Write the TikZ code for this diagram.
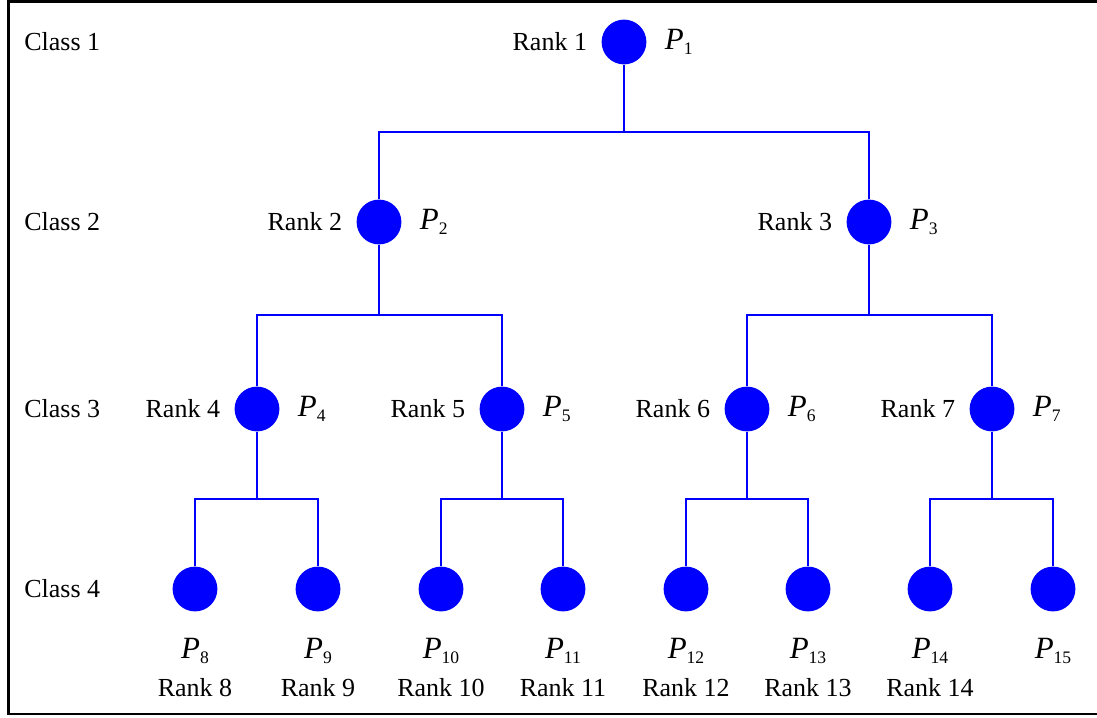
\documentclass[tikz,border=0pt]{standalone}
\usepackage{fontspec}
\setmainfont{Liberation Serif}
\usetikzlibrary{positioning}
\newcommand{\pname}[1]{\textit{P}\raisebox{-4pt}{\fontsize{12.5}{12.5}\selectfont #1}}

\begin{document}
\begin{tikzpicture}[
x=0.025cm, y=-0.025cm,
proc/.style={
  circle,
  fill=blue,
  inner sep=0pt,
  minimum size=1.12cm
  },
link/.style={draw=blue, line width=0.8pt},
txt/.style={inner sep=0pt, font=\fontsize{18.5}{22}\selectfont},
pl/.style={inner sep=0pt, font=\fontsize{22}{26}\selectfont}
]
\useasboundingbox (0,0) rectangle (1097,717);
\draw[line width=2.1pt] (1097,1.2) -- (8.5,1.2) -- (8.5,714) -- (1097,714);

% classes
\foreach \y/\c in {42/1,222/2,409/3,589/4}
  \node[txt, anchor=west] (class\c) at (24,\y) {Class \c};

% processes
\node[proc] (p1) at (624,42) {};
\node[proc] (p2) at (379,222) {};
\node[proc] (p3) at (869,222) {};
\foreach \x [count=\i from 4] in {257,502,747,992}
  \node[proc] (p\i) at (\x,409) {};
\foreach \x [count=\i from 8] in {195,318,441,563,686,808,930,1053}
  \node[proc] (p\i) at (\x,589) {};

% labels
\foreach \i in {1,...,7} {
  \node[txt, left=0.35cm of p\i] (rank\i) {Rank \i};
  \node[pl, right=0.45cm of p\i] (name\i) {\pname{\i}};
}
\foreach \i in {8,...,15}
  \node[pl, below=0.65cm of p\i] (name\i) {\pname{\i}};
\foreach \i in {8,...,14}
  \node[txt, below=1.65cm of p\i] (rank\i) {Rank \i};

% tree links
\foreach \a/\b/\c/\d in {1/2/3/90, 2/4/5/93, 3/6/7/93, 4/8/9/90,
    5/10/11/90, 6/12/13/90, 7/14/15/90}
  \draw[link] (p\a) -- ++(0,\d) coordinate (j\a)
    (p\b) |- (j\a) -| (p\c);
\end{tikzpicture}
\end{document}
